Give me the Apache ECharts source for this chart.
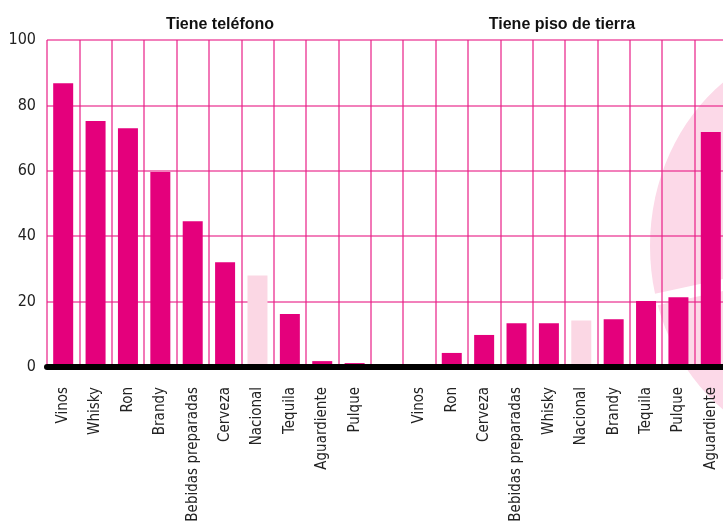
<!DOCTYPE html>
<html>
<head>
<meta charset="utf-8">
<script src="https://cdn.jsdelivr.net/npm/echarts@6/dist/echarts.min.js"></script>
<style>
  html, body { margin: 0; padding: 0; background: #ffffff; }
  #chart { width: 723px; height: 523px; }
</style>
</head>
<body>
<div id="chart"></div>
<script>
// Panel titles
const panelTitles = ['Tiene teléfono', 'Tiene piso de tierra'];

// Left panel: households with a telephone (%)
const phoneCategories = ['Vinos', 'Whisky', 'Ron', 'Brandy', 'Bebidas preparadas', 'Cerveza', 'Nacional', 'Tequila', 'Aguardiente', 'Pulque'];
const phoneValues = [86.8, 75.2, 73.0, 59.6, 44.6, 32.0, 28.0, 16.2, 1.8, 1.2];

// Right panel: households with a dirt floor (%)
const floorCategories = ['Vinos', 'Ron', 'Cerveza', 'Bebidas preparadas', 'Whisky', 'Nacional', 'Brandy', 'Tequila', 'Pulque', 'Aguardiente'];
const floorValues = [0, 4.3, 9.8, 13.4, 13.4, 14.2, 14.6, 20.2, 21.3, 71.9];

// The national average is shown in a pale tint
const highlightCategory = 'Nacional';

// Y axis
const yTicks = [0, 20, 40, 60, 80, 100];

const strong = '#e4007c';
const pale = '#fbd7e4';
const gridPink = 'rgba(232, 30, 135, 0.75)';
const narrow = '"Liberation Sans Narrow", "DejaVu Sans Condensed", "Arial Narrow", sans-serif';

// One category axis for both panels, with an empty slot between them
const categories = [...phoneCategories, '', ...floorCategories];
const toItem = (v, name) => ({
  value: v,
  itemStyle: { color: name === highlightCategory ? pale : strong }
});
const data = [
  ...phoneValues.map((v, i) => toItem(v, phoneCategories[i])),
  '-',
  ...floorValues.map((v, i) => toItem(v, floorCategories[i]))
];

const titleStyle = { fontFamily: 'Liberation Sans, Arial, sans-serif', fontWeight: 'bold', fontSize: 16, color: '#111' };

const chart = echarts.init(document.getElementById('chart'), null, { renderer: 'canvas' });
chart.setOption({
  animation: false,
  backgroundColor: '#ffffff',
  title: [
    { text: panelTitles[0], left: 215, top: 12, textAlign: 'center', textStyle: titleStyle },
    { text: panelTitles[1], left: 557, top: 12, textAlign: 'center', textStyle: titleStyle }
  ],
  // Decorative pale disc behind the right edge, split by a thin white band
  graphic: [
    {
      type: 'ellipse',
      z: -10,
      silent: true,
      shape: { cx: 834, cy: 246, rx: 184, ry: 205 },
      style: { fill: '#fcd9e8' }
    },
    {
      type: 'polygon',
      z: -9,
      silent: true,
      shape: { points: [[640, 297], [723, 279], [723, 291], [640, 309]] },
      style: { fill: '#ffffff' }
    }
  ],
  grid: { left: 47, top: 40, bottom: 156, width: 680, containLabel: false, outerBoundsMode: 'none' },
  xAxis: {
    type: 'category',
    data: categories,
    boundaryGap: true,
    axisLine: { show: true, lineStyle: { color: '#000', width: 6 } },
    axisTick: { show: false },
    axisLabel: {
      interval: 0,
      rotate: 90,
      margin: 20,
      fontFamily: narrow,
      fontSize: 15,
      color: '#222'
    },
    splitLine: { show: true, interval: 0, lineStyle: { color: gridPink, width: 1.6 } },
    z: 3
  },
  yAxis: {
    type: 'value',
    min: yTicks[0],
    max: yTicks[yTicks.length - 1],
    interval: 20,
    axisLine: { show: false },
    axisTick: { show: false },
    axisLabel: {
      margin: 11,
      fontFamily: narrow,
      fontSize: 16,
      color: '#222'
    },
    splitLine: { show: true, lineStyle: { color: gridPink, width: 1.6 } }
  },
  series: [
    {
      type: 'bar',
      data: data,
      barWidth: 20,
      z: 2
    }
  ]
});
</script>
</body>
</html>
